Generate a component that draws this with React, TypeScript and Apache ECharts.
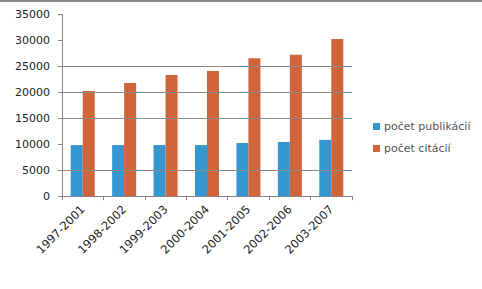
import React, { useEffect, useRef } from "react";
import * as echarts from "echarts";

const categories = ["1997-2001", "1998-2002", "1999-2003", "2000-2004", "2001-2005", "2002-2006", "2003-2007"];
const publikacie = [9850, 9850, 9850, 9850, 10250, 10450, 10850];
const citacie = [20250, 21800, 23350, 24100, 26550, 27200, 30250];
const seriesNames = ["počet publikácií", "počet citácií"];
const seriesColors = ["#3597d0", "#d0643a"];
const gridValues = [5000, 15000, 20000, 25000];

const FONT = "DejaVu Sans";

export default function App() {
  const ref = useRef<HTMLDivElement>(null);
  useEffect(() => {
    if (!ref.current) return;
    const chart = echarts.init(ref.current, undefined, { renderer: "svg" });
    const legendItems: any[] = [];
    seriesNames.forEach((name, i) => {
      const cy = 126 + i * 22;
      legendItems.push({
        type: "rect",
        shape: { x: 373, y: cy - 3, width: 7, height: 7 },
        style: { fill: seriesColors[i] },
      });
      legendItems.push({
        type: "text",
        x: 384,
        y: cy,
        style: {
          text: name,
          fontFamily: FONT,
          fontSize: 11,
          fill: "#555555",
          verticalAlign: "middle",
          align: "left",
        },
      });
    });
    chart.setOption({
      animation: false,
      backgroundColor: "#ffffff",
      textStyle: { fontFamily: FONT },
      grid: { left: 62, right: 130, top: 14.3, bottom: 92.7, containLabel: false },
      xAxis: {
        type: "category",
        data: categories,
        axisLine: { lineStyle: { color: "#868686", width: 1 } },
        axisTick: { show: true, length: 4, lineStyle: { color: "#868686" } },
        axisLabel: { rotate: 45, fontFamily: FONT, fontSize: 11.5, color: "#222222", margin: 11 },
        splitLine: { show: false },
      },
      yAxis: {
        type: "value",
        min: 0,
        max: 35000,
        interval: 5000,
        axisLine: { show: true, lineStyle: { color: "#868686", width: 1 } },
        axisTick: { show: true, length: 4, lineStyle: { color: "#868686" } },
        axisLabel: {
          fontFamily: FONT,
          fontSize: 11,
          color: "#222222",
          margin: 12,
          formatter: (v: number) => String(v),
        },
        splitLine: { show: false },
      },
      series: [
        {
          name: "grid",
          type: "line",
          data: [],
          z: 1,
          silent: true,
          markLine: {
            silent: true,
            symbol: "none",
            label: { show: false },
            lineStyle: { color: "#8a8a8a", width: 1, type: "solid" },
            data: gridValues.map((v) => ({ yAxis: v })),
          },
        },
        {
          name: seriesNames[0],
          type: "bar",
          data: publikacie,
          barGap: "0%",
          barCategoryGap: "42%",
          itemStyle: { color: seriesColors[0] },
          z: 2,
        },
        {
          name: seriesNames[1],
          type: "bar",
          data: citacie,
          barGap: "0%",
          barCategoryGap: "42%",
          itemStyle: { color: seriesColors[1] },
          z: 2,
        },
      ],
      graphic: [
        {
          type: "rect",
          z: 100,
          shape: { x: 0, y: 0, width: 482, height: 2 },
          style: { fill: "#8a8a8a" },
        },
        ...legendItems,
      ],
    });
    return () => chart.dispose();
  }, []);
  return (
    <div
      ref={ref}
      style={{ position: "fixed", left: 0, top: 0, width: 482, height: 289, background: "#fff" }}
    />
  );
}
